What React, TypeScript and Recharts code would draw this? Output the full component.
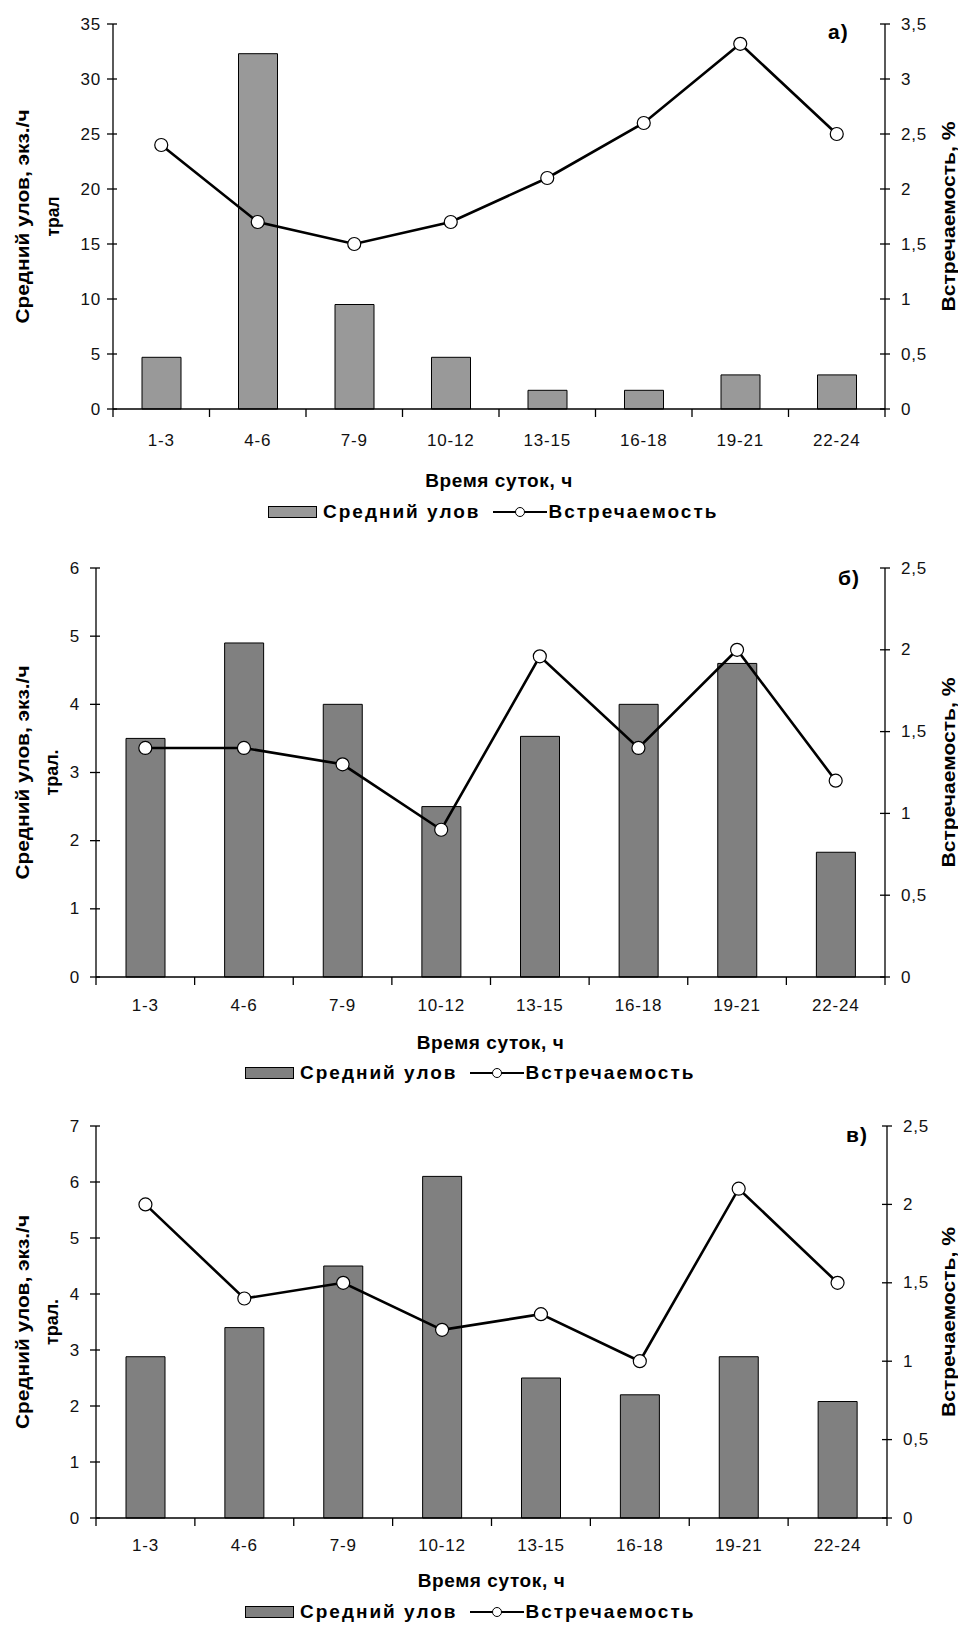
import React from "react";
import { ComposedChart, Bar, Line, XAxis, YAxis, Legend } from "recharts";

const FONT = '"Liberation Sans", Arial, sans-serif';

// time of day, 3-hour bins
const hours = ["1-3", "4-6", "7-9", "10-12", "13-15", "16-18", "19-21", "22-24"];

// а) mean catch (ind./h trawl) and occurrence (%)
const catchA = [4.7, 32.3, 9.5, 4.7, 1.7, 1.7, 3.1, 3.1];
const occurA = [2.4, 1.7, 1.5, 1.7, 2.1, 2.6, 3.32, 2.5];

// б)
const catchB = [3.5, 4.9, 4.0, 2.5, 3.53, 4.0, 4.6, 1.83];
const occurB = [1.4, 1.4, 1.3, 0.9, 1.96, 1.4, 2.0, 1.2];

// в)
const catchC = [2.88, 3.4, 4.5, 6.1, 2.5, 2.2, 2.88, 2.08];
const occurC = [2.0, 1.4, 1.5, 1.2, 1.3, 1.0, 2.1, 1.5];

const ticksA = [0, 5, 10, 15, 20, 25, 30, 35];
const ticksB = [0, 1, 2, 3, 4, 5, 6];
const ticksC = [0, 1, 2, 3, 4, 5, 6, 7];
const pctTicksA = [0, 0.5, 1, 1.5, 2, 2.5, 3, 3.5];
const pctTicksBC = [0, 0.5, 1, 1.5, 2, 2.5];

const comma = (v: number) => String(v).replace(".", ",");

type PanelProps = {
  letter: string;
  top: number;
  height: number;
  margin: { top: number; left: number; right: number; bottom: number };
  axisHeight: number;
  tickGap: number;
  titleGap: number;
  leftTickGap: number;
  catchValues: number[];
  occurValues: number[];
  leftTicks: number[];
  rightTicks: number[];
  barFill: string;
  leftTitle: string[];
  leftTitleX: number[];
  leftTitleLen: number[];
  letterPos: { left: number; top: number };
  legendLeft: number;
};

const makeXTick = (gap: number) => (p: any) => {
  const count = p.visibleTicksCount ?? hours.length;
  const half = p.width / count / 2;
  const y0 = p.y - gap;
  return (
    <g>
      <line x1={p.x - half} x2={p.x - half} y1={y0} y2={y0 + 8} stroke="#000" strokeWidth={1.3} />
      {p.index === count - 1 && (
        <line x1={p.x + half} x2={p.x + half} y1={y0} y2={y0 + 8} stroke="#000" strokeWidth={1.3} />
      )}
      <text
        x={p.x}
        y={p.y}
        textAnchor="middle"
        dominantBaseline="central"
        fontFamily={FONT}
        fontSize={17}
        letterSpacing={0.8}
        fill="#111"
      >
        {p.payload.value}
      </text>
    </g>
  );
};

const makeYTick = (side: "left" | "right", gap: number, fmt: (v: number) => string) => (p: any) => {
  const axisX = side === "left" ? p.x + gap : p.x - gap;
  return (
    <g>
      <line
        x1={side === "left" ? axisX - 6 : axisX - 5}
        x2={side === "left" ? axisX + 4 : axisX + 5}
        y1={p.y}
        y2={p.y}
        stroke="#000"
        strokeWidth={1.3}
      />
      <text
        x={p.x}
        y={p.y}
        textAnchor={side === "left" ? "end" : "start"}
        dominantBaseline="central"
        fontFamily={FONT}
        fontSize={17}
        letterSpacing={0.8}
        fill="#111"
      >
        {fmt(p.payload.value)}
      </text>
    </g>
  );
};

// bar entry first, then the line entry
const LegendRow = ({ payload, left, barFill }: any) => {
  const items = [...(payload || [])].sort(
    (a: any, b: any) => (a.type === "rect" ? 0 : 1) - (b.type === "rect" ? 0 : 1)
  );
  return (
    <div
      style={{
        width: 958,
        height: 30,
        boxSizing: "border-box",
        paddingLeft: left,
        display: "flex",
        alignItems: "center",
        fontFamily: FONT,
        fontWeight: "bold",
        fontSize: 19,
        letterSpacing: 2,
        color: "#000",
      }}
    >
      {items.map((entry: any) =>
        entry.type === "rect" ? (
          <span key={entry.value} style={{ display: "flex", alignItems: "center", marginRight: 12 }}>
            <span
              style={{
                display: "inline-block",
                width: 47,
                height: 10,
                background: barFill,
                border: "1px solid #000",
                marginRight: 6,
              }}
            />
            {entry.value}
          </span>
        ) : (
          <span key={entry.value} style={{ display: "flex", alignItems: "center" }}>
            <svg width={54} height={14} style={{ marginRight: 2 }}>
              <line x1={0} x2={54} y1={7} y2={7} stroke="#000" strokeWidth={2} />
              <circle cx={27} cy={7} r={4.5} fill="#fff" stroke="#000" strokeWidth={1} />
            </svg>
            {entry.value}
          </span>
        )
      )}
    </div>
  );
};

const Panel = (cfg: PanelProps) => {
  const data = hours.map((h, i) => ({
    hour: h,
    catchRate: cfg.catchValues[i],
    occurrence: cfg.occurValues[i],
  }));
  const leftMax = cfg.leftTicks[cfg.leftTicks.length - 1];
  const rightMax = cfg.rightTicks[cfg.rightTicks.length - 1];

  return (
    <div style={{ position: "absolute", left: 0, top: cfg.top, width: 958, height: cfg.height }}>
      <ComposedChart width={958} height={cfg.height} data={data} margin={cfg.margin}>
        <XAxis
          dataKey="hour"
          height={cfg.axisHeight}
          interval={0}
          tickSize={0}
          tickMargin={cfg.tickGap}
          tickLine={false}
          axisLine={{ stroke: "#000", strokeWidth: 1.3 }}
          tick={makeXTick(cfg.tickGap)}
          label={(lp: any) => (
            <text
              x={lp.viewBox.x + lp.viewBox.width / 2}
              y={lp.viewBox.y + cfg.titleGap}
              textAnchor="middle"
              dominantBaseline="central"
              fontFamily={FONT}
              fontWeight="bold"
              fontSize={19}
              letterSpacing={0.6}
              fill="#000"
            >
              Время суток, ч
            </text>
          )}
        />
        <YAxis
          yAxisId="left"
          width={60}
          domain={[0, leftMax]}
          ticks={cfg.leftTicks}
          interval={0}
          tickSize={0}
          tickMargin={cfg.leftTickGap}
          tickLine={false}
          axisLine={{ stroke: "#000", strokeWidth: 1.3 }}
          tick={makeYTick("left", cfg.leftTickGap, (v) => String(v))}
          label={(lp: any) => {
            const cy = lp.viewBox.y + lp.viewBox.height / 2;
            return (
              <g>
                {cfg.leftTitle.map((line, i) => (
                  <text
                    key={line}
                    x={cfg.leftTitleX[i]}
                    y={cy}
                    transform={`rotate(-90, ${cfg.leftTitleX[i]}, ${cy})`}
                    textAnchor="middle"
                    dominantBaseline="central"
                    fontFamily={FONT}
                    fontWeight="bold"
                    fontSize={19}
                    textLength={cfg.leftTitleLen[i]}
                    lengthAdjust="spacingAndGlyphs"
                    fill="#000"
                  >
                    {line}
                  </text>
                ))}
              </g>
            );
          }}
        />
        <YAxis
          yAxisId="right"
          orientation="right"
          width={60}
          domain={[0, rightMax]}
          ticks={cfg.rightTicks}
          interval={0}
          tickSize={0}
          tickMargin={16}
          tickLine={false}
          axisLine={{ stroke: "#000", strokeWidth: 1.3 }}
          tick={makeYTick("right", 16, comma)}
          label={(lp: any) => {
            const cx = 948;
            const cy = lp.viewBox.y + lp.viewBox.height / 2;
            return (
              <text
                x={cx}
                y={cy}
                transform={`rotate(-90, ${cx}, ${cy})`}
                textAnchor="middle"
                dominantBaseline="central"
                fontFamily={FONT}
                fontWeight="bold"
                fontSize={19}
                textLength={190}
                lengthAdjust="spacingAndGlyphs"
                fill="#000"
              >
                Встречаемость, %
              </text>
            );
          }}
        />
        <Bar
          yAxisId="left"
          dataKey="catchRate"
          name="Средний улов"
          legendType="rect"
          barSize={39}
          fill={cfg.barFill}
          stroke="#000"
          strokeWidth={1}
          isAnimationActive={false}
        />
        <Line
          yAxisId="right"
          dataKey="occurrence"
          name="Встречаемость"
          legendType="line"
          stroke="#000"
          strokeWidth={2.6}
          dot={{ r: 6.5, fill: "#fff", stroke: "#000", strokeWidth: 1.2 }}
          activeDot={false}
          isAnimationActive={false}
        />
        <Legend
          verticalAlign="bottom"
          height={30}
          wrapperStyle={{ left: 0, width: 958 }}
          content={(lp: any) => <LegendRow payload={lp.payload} left={cfg.legendLeft} barFill={cfg.barFill} />}
        />
      </ComposedChart>
      <div
        style={{
          position: "absolute",
          left: cfg.letterPos.left,
          top: cfg.letterPos.top,
          fontFamily: FONT,
          fontWeight: "bold",
          fontSize: 21,
          letterSpacing: 1,
          lineHeight: "24px",
          color: "#000",
        }}
      >
        {cfg.letter}
      </div>
    </div>
  );
};

export default function App() {
  return (
    <div
      style={{
        position: "absolute",
        left: 0,
        top: 0,
        width: 958,
        height: 1647,
        background: "#fff",
        overflow: "hidden",
      }}
    >
      <Panel
        letter="а)"
        top={0}
        height={540}
        margin={{ top: 24, left: 53, right: 13, bottom: 13 }}
        axisHeight={88}
        tickGap={31}
        titleGap={71}
        leftTickGap={12}
        catchValues={catchA}
        occurValues={occurA}
        leftTicks={ticksA}
        rightTicks={pctTicksA}
        barFill="#999999"
        leftTitle={["Средний улов, экз./ч", "трал"]}
        leftTitleX={[22, 52]}
        leftTitleLen={[214, 40]}
        letterPos={{ left: 828, top: 20 }}
        legendLeft={268}
      />
      <Panel
        letter="б)"
        top={540}
        height={560}
        margin={{ top: 28, left: 36, right: 13, bottom: 12 }}
        axisHeight={81}
        tickGap={28}
        titleGap={65}
        leftTickGap={16}
        catchValues={catchB}
        occurValues={occurB}
        leftTicks={ticksB}
        rightTicks={pctTicksBC}
        barFill="#808080"
        leftTitle={["Средний улов, экз./ч", "трал."]}
        leftTitleX={[22, 51]}
        leftTitleLen={[214, 46]}
        letterPos={{ left: 838, top: 26 }}
        legendLeft={245}
      />
      <Panel
        letter="в)"
        top={1100}
        height={547}
        margin={{ top: 26, left: 36, right: 11, bottom: 20 }}
        axisHeight={79}
        tickGap={27}
        titleGap={62}
        leftTickGap={16}
        catchValues={catchC}
        occurValues={occurC}
        leftTicks={ticksC}
        rightTicks={pctTicksBC}
        barFill="#808080"
        leftTitle={["Средний улов, экз./ч", "трал."]}
        leftTitleX={[22, 51]}
        leftTitleLen={[214, 46]}
        letterPos={{ left: 846, top: 23 }}
        legendLeft={245}
      />
    </div>
  );
}
